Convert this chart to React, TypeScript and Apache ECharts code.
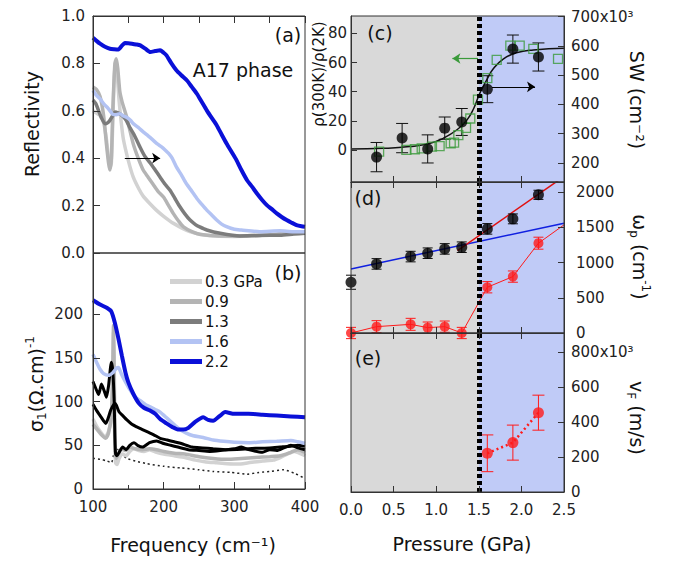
import React, { useEffect, useRef } from "react";
import * as echarts from "echarts";

const FONT = "DejaVu Sans";

// ---------- Panel (a): reflectivity vs frequency ----------
const rFreq03 = [100, 105, 110, 115, 119, 122, 124, 126, 128, 130, 132, 134, 137, 140, 143, 150, 157, 165, 171, 180, 190, 200, 214, 237, 260, 300, 350, 400];
const rVal03 = [0.6, 0.59, 0.58, 0.55, 0.48, 0.4, 0.36, 0.38, 0.55, 0.74, 0.8, 0.76, 0.64, 0.55, 0.48, 0.39, 0.32, 0.27, 0.24, 0.21, 0.18, 0.155, 0.125, 0.09, 0.075, 0.07, 0.075, 0.085];
const rFreq09 = [100, 105, 110, 115, 119, 122, 124, 126, 128, 131, 133, 135, 138, 141, 145, 148, 152, 157, 164, 171, 178, 185, 192, 200, 207, 214, 221, 228, 240, 252, 280, 320, 360, 400];
const rVal09 = [0.7, 0.69, 0.66, 0.58, 0.46, 0.38, 0.35, 0.4, 0.6, 0.8, 0.82, 0.78, 0.68, 0.64, 0.6, 0.57, 0.52, 0.46, 0.4, 0.35, 0.32, 0.29, 0.26, 0.235, 0.2, 0.165, 0.135, 0.11, 0.09, 0.078, 0.072, 0.072, 0.08, 0.09];
const rFreq13 = [100, 104, 108, 112, 117, 121, 124, 128, 131, 136, 141, 147, 152, 158, 166, 173, 181, 188, 195, 202, 209, 216, 223, 230, 237, 245, 251, 261, 280, 308, 340, 365, 384, 400];
const rVal13 = [0.645, 0.63, 0.6, 0.57, 0.545, 0.55, 0.56, 0.58, 0.595, 0.59, 0.58, 0.56, 0.53, 0.5, 0.45, 0.41, 0.38, 0.35, 0.32, 0.29, 0.265, 0.23, 0.195, 0.165, 0.14, 0.12, 0.11, 0.097, 0.083, 0.072, 0.075, 0.075, 0.08, 0.083];
const rFreq16 = [100, 105, 110, 115, 120, 124, 128, 133, 138, 143, 148, 153, 157, 164, 171, 178, 185, 191, 197, 202, 207, 212, 218, 225, 232, 240, 247, 254, 261, 268, 275, 282, 289, 300, 310, 336, 365, 383, 400];
const rVal16 = [0.686, 0.665, 0.65, 0.63, 0.615, 0.6, 0.585, 0.583, 0.588, 0.578, 0.572, 0.56, 0.546, 0.53, 0.511, 0.494, 0.476, 0.46, 0.448, 0.435, 0.42, 0.4, 0.363, 0.33, 0.293, 0.26, 0.23, 0.205, 0.181, 0.16, 0.139, 0.122, 0.111, 0.1, 0.097, 0.09, 0.094, 0.09, 0.09];
const rFreq22 = [100, 105, 110, 117, 124, 130, 136, 141, 145, 150, 155, 161, 167, 174, 181, 188, 195, 200, 204, 211, 218, 225, 233, 240, 247, 254, 261, 268, 275, 282, 289, 296, 303, 310, 318, 325, 332, 339, 346, 353, 360, 367, 374, 381, 388, 395, 400];
const rVal22 = [0.908, 0.895, 0.883, 0.87, 0.862, 0.86, 0.859, 0.875, 0.886, 0.885, 0.883, 0.88, 0.876, 0.862, 0.848, 0.852, 0.855, 0.845, 0.834, 0.8, 0.771, 0.75, 0.728, 0.7, 0.672, 0.637, 0.602, 0.57, 0.539, 0.5, 0.462, 0.427, 0.392, 0.35, 0.307, 0.28, 0.251, 0.225, 0.202, 0.185, 0.167, 0.152, 0.139, 0.128, 0.118, 0.113, 0.111];
const arrowA = [[145, 0.4], [195, 0.4]];

// ---------- Panel (b): optical conductivity ----------
const sFreq03 = [100, 105, 110, 115, 118, 122, 126, 128, 129, 130, 131, 132, 134, 137, 142, 147, 152, 158, 165, 172, 180, 190, 200, 215, 230, 245, 260, 275, 290, 305, 320, 340, 355, 365, 375, 385, 395, 400];
const sVal03 = [80, 72, 66, 61, 60, 66, 80, 120, 180, 150, 60, 30, 28, 35, 40, 38, 43, 46, 44, 43, 45, 42, 40, 38, 36, 33, 31, 30, 29, 28.5, 30, 32, 33, 36, 40, 43, 40, 38];
const sFreq09 = [100, 106, 112, 118, 122, 126, 128, 129, 130, 131, 133, 136, 140, 146, 152, 160, 170, 180, 190, 200, 215, 230, 250, 270, 290, 310, 330, 350, 365, 380, 390, 400];
const sVal09 = [74, 68, 62, 58, 64, 85, 140, 187, 120, 50, 35, 40, 46, 44, 48, 46, 45, 46, 45, 43, 41, 40, 37, 35, 34, 35, 36, 37, 38, 42, 45, 42];
const sFreqBlkA = [100, 105, 110, 115, 118, 121, 125, 128, 131, 133, 137, 142, 148, 155, 162, 170, 178, 186, 195, 205, 215, 225, 240, 255, 270, 290, 310, 330, 350, 365, 380, 390, 400];
const sValBlkA = [97, 90, 84, 78, 75, 80, 90, 95, 98, 96, 88, 84, 79, 74, 71, 68, 65, 62, 58, 56, 54, 52, 48, 47, 46, 45, 45.5, 46.5, 47, 48, 49, 50, 49];
const sFreqBlkB = [100, 104, 108, 112, 116, 119, 122, 126, 128, 130, 131, 132, 134, 137, 142, 147, 152, 158, 163, 170, 180, 190, 200, 210, 220, 235, 250, 265, 280, 300, 310, 320, 340, 350, 360, 370, 380, 390, 400];
const sValBlkB = [123, 115, 108, 120, 112, 105, 118, 145, 135, 100, 60, 40, 38, 42, 48, 45, 50, 53, 50, 48, 53, 55, 52, 50, 48, 45, 44, 43, 44, 46, 48, 45, 42, 45, 44, 47, 50, 47, 45];
const sFreq16 = [100, 105, 110, 115, 122, 128, 133, 136, 140, 145, 152, 160, 167, 175, 181, 188, 195, 202, 209, 216, 223, 232, 242, 256, 270, 285, 300, 320, 340, 360, 380, 390, 400];
const sVal16 = [154, 145, 137, 132, 130, 133, 138, 139, 132, 124, 114, 105, 101, 96, 94, 91, 88, 83, 78, 73, 68, 64, 61, 59, 56, 54.5, 53.5, 53, 54, 54.5, 55.5, 54, 52];
const sFreq22 = [100, 110, 120, 126, 131, 136, 141, 146, 150, 157, 165, 172, 180, 188, 195, 204, 212, 220, 228, 235, 245, 256, 263, 270, 280, 287, 300, 320, 340, 360, 380, 400];
const sVal22 = [216, 211, 207, 203, 190, 172, 152, 133, 122, 109, 98, 93, 90, 86, 80, 75, 71, 68, 68, 70, 77, 82, 79, 78, 84, 88, 86, 86, 85, 84, 83, 82];
const sFreqDot = [100, 110, 120, 126, 130, 134, 140, 148, 160, 176, 200, 225, 250, 270, 295, 318, 335, 350, 370, 385, 400];
const sValDot = [35, 34, 32, 30, 42, 46, 40, 35, 32, 29, 26, 24, 22, 20, 19, 17, 19, 20, 22, 18, 12];

// ---------- Panel (c) ----------
const swP = [0.3, 0.6, 0.9, 1.1, 1.3, 1.6, 1.9, 2.2];
const swVal = [220, 285, 248, 319, 340, 452, 589, 562]; // x10^3 cm^-2
const swErr = [50, 50, 48, 38, 46, 46, 48, 48];
const rhoP = [0.33, 0.65, 0.75, 0.83, 0.95, 1.04, 1.17, 1.21, 1.26, 1.35, 1.4, 1.49, 1.6, 1.71, 1.87, 1.98, 2.14, 2.43];
const rhoVal = [-1.1, 0, 0.5, 1.1, 2.3, 2.7, 4.6, 5.0, 10.2, 15.2, 21.6, 34.6, 49.4, 61.9, 71.7, 71.7, 69.4, 62.6];
const fitP = [0, 0.38, 0.69, 0.93, 1.08, 1.24, 1.36, 1.44, 1.51, 1.59, 1.67, 1.79, 1.94, 2.14, 2.5];
const fitRho = [0.7, 1.1, 2.3, 4.6, 8.0, 13.7, 20.5, 28.5, 38.7, 47.8, 55.8, 62.6, 66.7, 68.7, 69.8];
const arrowGreen = [[1.49, 62.8], [1.19, 62.8]];
const arrowBlack = [[1.655, 460], [2.16, 460]];

// ---------- Panel (d) ----------
const wpP = [0, 0.3, 0.7, 0.9, 1.1, 1.3, 1.6, 1.9, 2.2];
const wpBlack = [720, 980, 1084, 1132, 1193, 1217, 1477, 1619, 1960];
const wpBlackErr = [100, 75, 75, 75, 75, 75, 75, 70, 65];
const wpRed = [0, 90, 123, 76, 90, 0, 649, 800, 1274];
const wpRedErr = [80, 85, 85, 80, 80, 80, 80, 80, 85];
const wpRedLineP = [0, 0.3, 0.7, 0.9, 1.1, 1.3, 1.6, 1.9, 2.2, 2.5];
const wpRedLine = [0, 90, 123, 76, 90, 0, 649, 800, 1274, 1534];
const blueFit = [[0, 909], [2.5, 1558]];
const redFit = [[1.25, 1169], [2.5, 2220]];

// ---------- Panel (e) ----------
const vfP = [1.6, 1.9, 2.2];
const vfVal = [221, 282, 453]; // x10^3 m/s
const vfErr = [105, 100, 100];

// ---------- ticks ----------
const rhoTicks = [0, 20, 40, 60, 80];
const swTicks = [200, 300, 400, 500, 600, 700];
const wpTicks = [0, 500, 1000, 1500, 2000];
const vfTicks = [0, 200, 400, 600, 800];
const sigmaTicks = [0, 50, 100, 150, 200];

const legendNames = ["0.3 GPa", "0.9", "1.3", "1.6", "2.2"];

const C03 = "#d2d2d2";
const C09 = "#b4b4b4";
const C13 = "#7c7c7c";
const C16 = "#b3c3f3";
const C22 = "#0a10d8";
const GREEN = "#3a9a3a";
const RED = "#ff1a1a";
const BG_GREY = "#d9d9d9";
const BG_BLUE = "#c0cbf7";
const AX = "#333";

const pts = (xs: number[], ys: number[]) => xs.map((x, i) => [x, ys[i]]);

function curve(name: string, xs: number[], ys: number[], xi: number, yi: number, color: string, width: number, extra: any = {}) {
  return {
    type: "line",
    name,
    xAxisIndex: xi,
    yAxisIndex: yi,
    data: pts(xs, ys),
    symbol: "none",
    showSymbol: false,
    smooth: 0.2,
    itemStyle: { color },
    lineStyle: { color, width },
    z: 3,
    ...extra,
  };
}

function errorBars(xs: number[], ys: number[], es: number[], xi: number, yi: number, color: string, cap: number) {
  return {
    type: "custom",
    xAxisIndex: xi,
    yAxisIndex: yi,
    z: 4,
    silent: true,
    data: xs.map((x, i) => [x, ys[i] - es[i], ys[i] + es[i]]),
    encode: { x: 0, y: [1, 2] },
    renderItem: (_p: any, api: any) => {
      const x = api.value(0);
      const lo = api.coord([x, api.value(1)]);
      const hi = api.coord([x, api.value(2)]);
      const style = { stroke: color, lineWidth: 1, fill: "none" };
      return {
        type: "group",
        children: [
          { type: "line", shape: { x1: lo[0], y1: lo[1], x2: hi[0], y2: hi[1] }, style },
          { type: "line", shape: { x1: lo[0] - cap, y1: lo[1], x2: lo[0] + cap, y2: lo[1] }, style },
          { type: "line", shape: { x1: hi[0] - cap, y1: hi[1], x2: hi[0] + cap, y2: hi[1] }, style },
        ],
      };
    },
  };
}

const bgArea = {
  silent: true,
  data: [
    [{ xAxis: 0, itemStyle: { color: BG_GREY } }, { xAxis: 1.5 }],
    [{ xAxis: 1.5, itemStyle: { color: BG_BLUE } }, { xAxis: 2.5 }],
  ],
};
const dashLine = {
  silent: true,
  symbol: "none",
  label: { show: false },
  lineStyle: { color: "#000", width: 5, type: [4, 3] },
  data: [{ xAxis: 1.5 }],
};
const arrowMark = (a: number[][], color: string) => ({
  silent: true,
  symbol: ["none", "arrow"],
  symbolSize: 8,
  label: { show: false },
  lineStyle: { color, width: 1.2, type: "solid" },
  data: [[{ coord: a[0] }, { coord: a[1] }]],
});

const lineAx = { show: true, onZero: false, lineStyle: { color: AX, width: 1 } };
const tickIn = (len = 6) => ({ show: true, inside: true, length: len, lineStyle: { color: AX, width: 1 } });
const lbl = (extra: any = {}) => ({ show: true, fontSize: 15, fontFamily: FONT, color: "#222", ...extra });

function pAxis(gridIndex: number, position: string, labels: boolean) {
  return {
    type: "value",
    gridIndex,
    position,
    min: 0,
    max: 2.5,
    interval: 0.5,
    axisLine: lineAx,
    axisTick: tickIn(6),
    axisLabel: labels ? lbl({ margin: 10, formatter: (v: number) => v.toFixed(1) }) : { show: false },
    splitLine: { show: false },
    z: 10,
  };
}

const gridBox = (left: number, top: number, width: number, height: number) => ({
  left, top, width, height,
  show: true, borderColor: AX, borderWidth: 1, backgroundColor: "rgba(0,0,0,0)",
  z: 10, outerBoundsMode: "none",
});

function buildOption(): any {
  const text = (t: string, x: number, y: number, size = 19, rot = 0, extra: any = {}) => ({
    type: "text",
    x,
    y,
    rotation: rot,
    z: 20,
    style: { text: t, fontSize: size, fontFamily: FONT, fill: "#111", align: "center", verticalAlign: "middle", ...extra },
  });
  const rich = (size: number) => ({
    m: { fontSize: size, fontFamily: FONT, fill: "#111", lineHeight: 24 },
    sub: { fontSize: 12, fontFamily: FONT, fill: "#111", verticalAlign: "bottom", lineHeight: 24 },
    sup: { fontSize: 12, fontFamily: FONT, fill: "#111", verticalAlign: "top", lineHeight: 24 },
  });
  const num = (v: number) => String(v);

  return {
    animation: false,
    backgroundColor: "#fff",
    textStyle: { fontFamily: FONT },
    grid: [
      gridBox(93, 16, 212, 237),
      gridBox(93, 253, 212, 236),
      gridBox(351, 16, 213, 166),
      gridBox(351, 182, 213, 151),
      gridBox(351, 333, 213, 159),
    ],
    legend: {
      data: legendNames,
      orient: "vertical",
      left: 170,
      top: 274,
      itemWidth: 32,
      itemHeight: 5,
      itemGap: 5,
      icon: "rect",
      padding: 0,
      selectedMode: false,
      textStyle: { fontSize: 15, fontFamily: FONT, color: "#111", padding: [0, 0, 0, -2] },
    },
    xAxis: [
      {
        type: "value", gridIndex: 0, position: "top", min: 100, max: 400, interval: 50,
        axisLine: lineAx, axisTick: tickIn(7), axisLabel: { show: false }, splitLine: { show: false }, z: 10,
      },
      {
        type: "value", gridIndex: 1, position: "bottom", min: 100, max: 400, interval: 100,
        axisLine: lineAx, axisTick: tickIn(7),
        minorTick: { show: true, splitNumber: 2, length: 4, lineStyle: { color: AX } },
        axisLabel: lbl({ margin: 10, formatter: num }), splitLine: { show: false }, minorSplitLine: { show: false }, z: 10,
      },
      pAxis(2, "bottom", false),
      pAxis(3, "bottom", false),
      pAxis(3, "top", false),
      pAxis(4, "bottom", true),
      pAxis(4, "top", false),
    ],
    yAxis: [
      {
        type: "value", gridIndex: 0, position: "left", min: 0, max: 1, interval: 0.2,
        axisLine: lineAx, axisTick: tickIn(7),
        axisLabel: lbl({ margin: 8, formatter: (v: number) => v.toFixed(1) }), splitLine: { show: false }, z: 10,
      },
      {
        type: "value", gridIndex: 1, position: "left", min: 0, max: 270,
        axisLine: lineAx, axisTick: { ...tickIn(7), customValues: sigmaTicks },
        axisLabel: lbl({ margin: 10, customValues: sigmaTicks, formatter: num }), splitLine: { show: false }, z: 10,
      },
      {
        type: "value", gridIndex: 2, position: "left", min: -22, max: 92,
        axisLine: lineAx, axisTick: { ...tickIn(6), customValues: rhoTicks },
        axisLabel: lbl({ margin: 4, customValues: rhoTicks, formatter: num }), splitLine: { show: false }, z: 10,
      },
      {
        type: "value", gridIndex: 2, position: "right", min: 135, max: 702,
        axisLine: lineAx, axisTick: { ...tickIn(6), customValues: swTicks },
        axisLabel: lbl({ margin: 7, customValues: swTicks, formatter: (v: number) => (v === 700 ? "700x10³" : String(v)) }),
        splitLine: { show: false }, z: 10,
      },
      {
        type: "value", gridIndex: 3, position: "right", min: 0, max: 2142,
        axisLine: lineAx, axisTick: { ...tickIn(6), customValues: wpTicks },
        axisLabel: lbl({ margin: 12, customValues: wpTicks, formatter: num }), splitLine: { show: false }, z: 10,
      },
      {
        type: "value", gridIndex: 4, position: "right", min: 0, max: 908,
        axisLine: lineAx, axisTick: { ...tickIn(6), customValues: vfTicks },
        axisLabel: lbl({ margin: 7, customValues: vfTicks, formatter: (v: number) => (v === 800 ? "800x10³" : String(v)) }),
        splitLine: { show: false }, z: 10,
      },
    ],
    series: [
      // (a)
      curve("0.3 GPa", rFreq03, rVal03, 0, 0, C03, 3.5),
      curve("0.9", rFreq09, rVal09, 0, 0, C09, 3.5),
      curve("1.3", rFreq13, rVal13, 0, 0, C13, 3.5, { markLine: arrowMark(arrowA, "#000") }),
      curve("1.6", rFreq16, rVal16, 0, 0, C16, 3.5),
      curve("2.2", rFreq22, rVal22, 0, 0, C22, 4),
      // (b)
      curve("dotted", sFreqDot, sValDot, 1, 1, "#222", 1.5, { lineStyle: { color: "#222", width: 1.5, type: [2, 3] } }),
      curve("0.3 GPa", sFreq03, sVal03, 1, 1, C03, 3.5),
      curve("0.9", sFreq09, sVal09, 1, 1, C09, 3.5),
      curve("blackA", sFreqBlkA, sValBlkA, 1, 1, "#000", 3),
      curve("blackB", sFreqBlkB, sValBlkB, 1, 1, "#000", 3),
      curve("1.6", sFreq16, sVal16, 1, 1, C16, 3.5),
      curve("2.2", sFreq22, sVal22, 1, 1, C22, 4),
      // (c)
      {
        type: "line", name: "fit", xAxisIndex: 2, yAxisIndex: 2, data: pts(fitP, fitRho), smooth: true,
        symbol: "none", lineStyle: { color: "#111", width: 1.5 }, itemStyle: { color: "#111" }, z: 3,
        markArea: bgArea, markLine: dashLine,
      },
      {
        type: "scatter", name: "rho", xAxisIndex: 2, yAxisIndex: 2, data: pts(rhoP, rhoVal),
        symbol: "rect", symbolSize: 9, itemStyle: { color: "rgba(0,0,0,0)", borderColor: GREEN, borderWidth: 1.3 }, z: 4,
        markLine: arrowMark(arrowGreen, GREEN),
      },
      errorBars(swP, swVal, swErr, 2, 3, "#111", 6),
      {
        type: "scatter", name: "SW", xAxisIndex: 2, yAxisIndex: 3, data: pts(swP, swVal),
        symbol: "circle", symbolSize: 11, itemStyle: { color: "#000" }, z: 5,
        markLine: arrowMark(arrowBlack, "#000"),
      },
      // (d)
      {
        type: "line", name: "blueFit", xAxisIndex: 3, yAxisIndex: 4, data: blueFit, symbol: "none",
        lineStyle: { color: "#1020e0", width: 1.5 }, itemStyle: { color: "#1020e0" }, z: 3,
        markArea: bgArea, markLine: dashLine,
      },
      {
        type: "line", name: "redFit", xAxisIndex: 3, yAxisIndex: 4, data: redFit, symbol: "none",
        lineStyle: { color: "#e01010", width: 1.5 }, itemStyle: { color: "#e01010" }, z: 3,
      },
      {
        type: "line", name: "redLine", xAxisIndex: 3, yAxisIndex: 4, data: pts(wpRedLineP, wpRedLine), symbol: "none",
        lineStyle: { color: RED, width: 1 }, itemStyle: { color: RED }, z: 3,
      },
      errorBars(wpP, wpBlack, wpBlackErr, 3, 4, "#111", 5),
      errorBars(wpP, wpRed, wpRedErr, 3, 4, RED, 5),
      {
        type: "scatter", name: "wpBlack", xAxisIndex: 3, yAxisIndex: 4, data: pts(wpP, wpBlack),
        symbol: "circle", symbolSize: 11, itemStyle: { color: "#000" }, z: 5,
      },
      {
        type: "scatter", name: "wpRed", xAxisIndex: 3, yAxisIndex: 4, data: pts(wpP, wpRed),
        symbol: "circle", symbolSize: 10, itemStyle: { color: RED }, z: 5,
      },
      // (e)
      {
        type: "line", name: "vfLine", xAxisIndex: 5, yAxisIndex: 5, data: pts(vfP, vfVal), symbol: "none",
        lineStyle: { color: RED, width: 2.5, type: [2, 3] }, itemStyle: { color: RED }, z: 3,
        markArea: bgArea, markLine: dashLine,
      },
      errorBars(vfP, vfVal, vfErr, 5, 5, RED, 6),
      {
        type: "scatter", name: "vf", xAxisIndex: 5, yAxisIndex: 5, data: pts(vfP, vfVal),
        symbol: "circle", symbolSize: 11, itemStyle: { color: RED }, z: 5,
      },
    ],
    graphic: [
      text("Reflectivity", 32, 124, 19, Math.PI / 2),
      {
        type: "text", x: 36, y: 384, rotation: Math.PI / 2, z: 20,
        style: { text: "{m|σ}{sub|1}{m|(Ω.cm)}{sup|-1}", rich: rich(19), align: "center", verticalAlign: "middle" },
      },
      text("Frequency (cm⁻¹)", 193, 545, 19),
      text("Pressure (GPa)", 462, 544, 19),
      text("ρ(300K)/ρ(2K)", 319, 74, 15, Math.PI / 2),
      text("SW (cm⁻²)", 637, 100, 19, -Math.PI / 2),
      {
        type: "text", x: 640, y: 257, rotation: -Math.PI / 2, z: 20,
        style: { text: "{m|ω}{sub|p}{m| (cm}{sup|-1}{m|)}", rich: rich(19), align: "center", verticalAlign: "middle" },
      },
      {
        type: "text", x: 637, y: 418, rotation: -Math.PI / 2, z: 20,
        style: { text: "{m|v}{sub|F}{m| (m/s)}", rich: rich(19), align: "center", verticalAlign: "middle" },
      },
      text("(a)", 288, 35),
      text("A17 phase", 243, 70),
      text("(b)", 288, 273),
      text("(c)", 380, 33),
      text("(d)", 368, 198),
      text("(e)", 368, 358),
    ],
  };
}

export default function App() {
  const ref = useRef<HTMLDivElement>(null);
  useEffect(() => {
    if (!ref.current) return;
    const chart = echarts.init(ref.current, undefined, { renderer: "svg" });
    chart.setOption(buildOption());
    return () => chart.dispose();
  }, []);
  return <div ref={ref} style={{ position: "absolute", left: 0, top: 0, width: 684, height: 562 }} />;
}
